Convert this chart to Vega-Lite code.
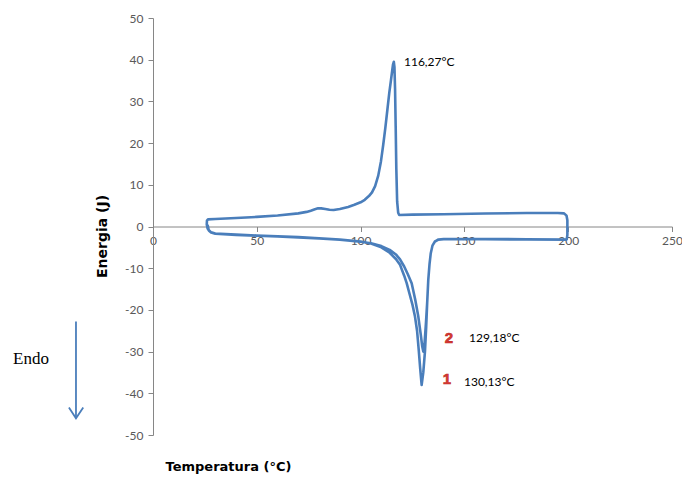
{
  "$schema": "https://vega.github.io/schema/vega-lite/v6.json",
  "width": 519,
  "height": 417,
  "autosize": {"type": "none"},
  "padding": {"left": 153, "top": 18, "right": 10, "bottom": 45},
  "background": "white",
  "config": {
    "view": {"stroke": null},
    "axis": {
      "domainColor": "#868686",
      "tickColor": "#868686",
      "labelColor": "#595959",
      "labelFont": "Lato",
      "labelFontSize": 12,
      "grid": false,
      "tickSize": 5,
      "labelFlush": false,
      "titleFont": "DejaVu Sans",
      "titleFontWeight": "bold",
      "titleFontSize": 13,
      "titleColor": "#000000"
    }
  },
  "datasets": {
    "curve": [
      {"i": 1, "t": 26.3, "e": 0.4},
      {"i": 2, "t": 26.8, "e": -0.8},
      {"i": 3, "t": 28, "e": -1.4},
      {"i": 4, "t": 30, "e": -1.7},
      {"i": 5, "t": 40, "e": -1.95},
      {"i": 6, "t": 50, "e": -2.15},
      {"i": 7, "t": 60, "e": -2.35},
      {"i": 8, "t": 70, "e": -2.55},
      {"i": 9, "t": 80, "e": -2.8},
      {"i": 10, "t": 90, "e": -3.1},
      {"i": 11, "t": 100, "e": -3.6},
      {"i": 12, "t": 105, "e": -4.1},
      {"i": 13, "t": 110, "e": -5.0},
      {"i": 14, "t": 114, "e": -6.3},
      {"i": 15, "t": 117, "e": -7.8},
      {"i": 16, "t": 119, "e": -9.2},
      {"i": 17, "t": 121, "e": -11.8},
      {"i": 18, "t": 122.2, "e": -13.6},
      {"i": 19, "t": 123.5, "e": -16},
      {"i": 20, "t": 125, "e": -18.8},
      {"i": 21, "t": 126.2, "e": -21.6},
      {"i": 22, "t": 127.2, "e": -25},
      {"i": 23, "t": 128, "e": -29.6},
      {"i": 24, "t": 128.7, "e": -34},
      {"i": 25, "t": 129.4, "e": -38},
      {"i": 26, "t": 130.2, "e": -35},
      {"i": 27, "t": 131.0, "e": -30},
      {"i": 28, "t": 131.6, "e": -24},
      {"i": 29, "t": 132.1, "e": -18},
      {"i": 30, "t": 132.6, "e": -12.8},
      {"i": 31, "t": 133.2, "e": -9},
      {"i": 32, "t": 133.8, "e": -6.4},
      {"i": 33, "t": 134.6, "e": -4.6},
      {"i": 34, "t": 135.8, "e": -3.6},
      {"i": 35, "t": 137.5, "e": -3.1},
      {"i": 36, "t": 140, "e": -3.0},
      {"i": 37, "t": 160, "e": -3.0},
      {"i": 38, "t": 180, "e": -3.05},
      {"i": 39, "t": 199.3, "e": -3.1},
      {"i": 40, "t": 199.6, "e": -2},
      {"i": 41, "t": 199.6, "e": 1.5},
      {"i": 42, "t": 199.2, "e": 2.6},
      {"i": 43, "t": 198, "e": 3.15},
      {"i": 44, "t": 195, "e": 3.25},
      {"i": 45, "t": 180, "e": 3.25},
      {"i": 46, "t": 160, "e": 3.1},
      {"i": 47, "t": 140, "e": 2.95},
      {"i": 48, "t": 125, "e": 2.85},
      {"i": 49, "t": 118.6, "e": 2.75},
      {"i": 50, "t": 118.1, "e": 3.3},
      {"i": 51, "t": 117.6, "e": 6},
      {"i": 52, "t": 117.2, "e": 14},
      {"i": 53, "t": 116.9, "e": 24},
      {"i": 54, "t": 116.6, "e": 33},
      {"i": 55, "t": 116.3, "e": 38.3},
      {"i": 56, "t": 116.0, "e": 39.5},
      {"i": 57, "t": 115.6, "e": 38.8},
      {"i": 58, "t": 115.2, "e": 37.3},
      {"i": 59, "t": 114.6, "e": 35},
      {"i": 60, "t": 113.8, "e": 32},
      {"i": 61, "t": 112.9, "e": 28},
      {"i": 62, "t": 111.9, "e": 23.6},
      {"i": 63, "t": 110.9, "e": 19.6},
      {"i": 64, "t": 109.8, "e": 15.6},
      {"i": 65, "t": 108.5, "e": 12.2},
      {"i": 66, "t": 107, "e": 9.7},
      {"i": 67, "t": 105.5, "e": 8.2},
      {"i": 68, "t": 104, "e": 7.3},
      {"i": 69, "t": 102, "e": 6.4},
      {"i": 70, "t": 100, "e": 5.8},
      {"i": 71, "t": 97, "e": 5.2},
      {"i": 72, "t": 94, "e": 4.7},
      {"i": 73, "t": 90, "e": 4.2},
      {"i": 74, "t": 87, "e": 3.95},
      {"i": 75, "t": 85, "e": 4.0},
      {"i": 76, "t": 83, "e": 4.2},
      {"i": 77, "t": 81, "e": 4.35},
      {"i": 78, "t": 79.5, "e": 4.35},
      {"i": 79, "t": 78, "e": 4.15},
      {"i": 80, "t": 76, "e": 3.8},
      {"i": 81, "t": 74, "e": 3.5},
      {"i": 82, "t": 70, "e": 3.15},
      {"i": 83, "t": 60, "e": 2.65},
      {"i": 84, "t": 50, "e": 2.3},
      {"i": 85, "t": 40, "e": 2.05},
      {"i": 86, "t": 30, "e": 1.8},
      {"i": 87, "t": 26.5, "e": 1.7},
      {"i": 88, "t": 26, "e": 1.4},
      {"i": 89, "t": 25.9, "e": 0.5},
      {"i": 90, "t": 26.3, "e": -0.5},
      {"i": 91, "t": 27, "e": -1.0},
      {"i": 92, "t": 28, "e": -1.45},
      {"i": 93, "t": 30, "e": -1.75},
      {"i": 94, "t": 40, "e": -2.0},
      {"i": 95, "t": 50, "e": -2.2},
      {"i": 96, "t": 60, "e": -2.4},
      {"i": 97, "t": 70, "e": -2.6},
      {"i": 98, "t": 80, "e": -2.85},
      {"i": 99, "t": 90, "e": -3.15},
      {"i": 100, "t": 100, "e": -3.65},
      {"i": 101, "t": 105, "e": -4.0},
      {"i": 102, "t": 110, "e": -4.7},
      {"i": 103, "t": 114, "e": -5.6},
      {"i": 104, "t": 117, "e": -6.7},
      {"i": 105, "t": 119, "e": -7.9},
      {"i": 106, "t": 121, "e": -9.6},
      {"i": 107, "t": 122.8, "e": -11.5},
      {"i": 108, "t": 124.6, "e": -13.6},
      {"i": 109, "t": 126.3, "e": -17.5},
      {"i": 110, "t": 127.8, "e": -21.6},
      {"i": 111, "t": 129, "e": -26},
      {"i": 112, "t": 129.7, "e": -28.8},
      {"i": 113, "t": 130.2, "e": -30},
      {"i": 114, "t": 130.8, "e": -28},
      {"i": 115, "t": 131.5, "e": -23},
      {"i": 116, "t": 132.1, "e": -18},
      {"i": 117, "t": 132.6, "e": -12.8},
      {"i": 118, "t": 133.2, "e": -9},
      {"i": 119, "t": 133.8, "e": -6.4},
      {"i": 120, "t": 134.6, "e": -4.6},
      {"i": 121, "t": 135.8, "e": -3.6},
      {"i": 122, "t": 137.5, "e": -3.15},
      {"i": 123, "t": 140, "e": -3.05},
      {"i": 124, "t": 160, "e": -3.05},
      {"i": 125, "t": 180, "e": -3.1},
      {"i": 126, "t": 199.3, "e": -3.15}
    ],
    "labels": [
      {"t": 120.9, "e": 39.4, "txt": "116,27°C"},
      {"t": 152.2, "e": -26.7, "txt": "129,18°C"},
      {"t": 149.8, "e": -37.3, "txt": "130,13°C"}
    ],
    "nums": [
      {"t": 142.6, "e": -26.7, "txt": "2"},
      {"t": 141.6, "e": -36.6, "txt": "1"}
    ],
    "endo": [
      {"t": -67.4, "e": -31.8, "txt": "Endo"}
    ],
    "shaft": [
      {"t": -37.1, "e": -22.8, "e2": -46.0}
    ],
    "head": [
      {"k": 1, "t": -40.5, "e": -43.4},
      {"k": 2, "t": -37.1, "e": -46.0},
      {"k": 3, "t": -33.6, "e": -43.4}
    ]
  },
  "encoding": {
    "x": {
      "field": "t", "type": "quantitative",
      "scale": {"domain": [0, 250], "nice": false},
      "axis": {
        "orient": "bottom", "offset": -208.5,
        "values": [0, 50, 100, 150, 200, 250],
        "labelPadding": 4,
        "title": "Temperatura (°C)",
        "titleX": 12, "titleY": 240, "titleAlign": "left", "titleBaseline": "middle"
      }
    },
    "y": {
      "field": "e", "type": "quantitative",
      "scale": {"domain": [-50, 50], "nice": false},
      "axis": {
        "values": [-50, -40, -30, -20, -10, 0, 10, 20, 30, 40, 50],
        "labelExpr": "'' + datum.value",
        "labelPadding": 5,
        "title": "Energia (J)",
        "titleFontSize": 14,
        "titleX": -51, "titleY": 218, "titleAlign": "center", "titleBaseline": "middle", "titleAngle": -90
      }
    }
  },
  "layer": [
    {
      "data": {"name": "curve"},
      "mark": {"type": "line", "color": "#4a7ebb", "strokeWidth": 2.6, "strokeJoin": "round"},
      "encoding": {
        "order": {"field": "i", "type": "quantitative"}
      }
    },
    {
      "data": {"name": "labels"},
      "mark": {"type": "text", "align": "left", "baseline": "middle", "font": "Lato", "fontSize": 12, "color": "#000000"},
      "encoding": {
        "text": {"field": "txt"}
      }
    },
    {
      "data": {"name": "nums"},
      "mark": {"type": "text", "align": "center", "baseline": "middle", "font": "Liberation Sans", "fontWeight": "bold", "fontSize": 15, "color": "#d83b35", "stroke": "#c02a25", "strokeWidth": 0.6},
      "encoding": {
        "text": {"field": "txt"}
      }
    },
    {
      "data": {"name": "endo"},
      "mark": {"type": "text", "align": "left", "baseline": "middle", "font": "Liberation Serif", "fontSize": 17, "color": "#000000"},
      "encoding": {
        "text": {"field": "txt"}
      }
    },
    {
      "data": {"name": "shaft"},
      "mark": {"type": "rule", "color": "#4a7ebb", "strokeWidth": 1.8},
      "encoding": {
        "y2": {"field": "e2"}
      }
    },
    {
      "data": {"name": "head"},
      "mark": {"type": "line", "color": "#4a7ebb", "strokeWidth": 1.8},
      "encoding": {
        "order": {"field": "k", "type": "quantitative"}
      }
    }
  ]
}
